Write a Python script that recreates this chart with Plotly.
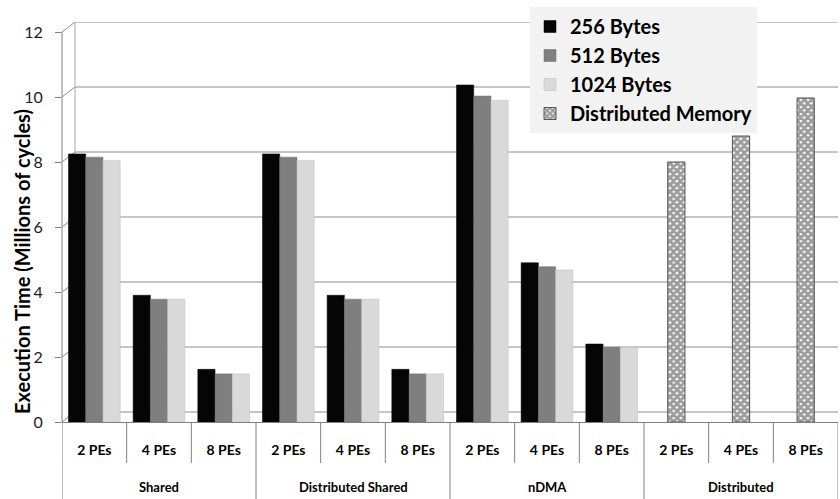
import plotly.graph_objects as go

groups = ["Shared", "Distributed Shared", "nDMA", "Distributed"]
pes = ["2 PEs", "4 PEs", "8 PEs"]

b256 = [8.25, 3.9, 1.62, 8.25, 3.9, 1.62, 10.37, 4.9, 2.4, None, None, None]
b512 = [8.15, 3.78, 1.48, 8.15, 3.78, 1.48, 10.03, 4.78, 2.3, None, None, None]
b1024 = [8.05, 3.78, 1.48, 8.05, 3.78, 1.48, 9.9, 4.68, 2.3, None, None, None]
dist_mem = [None, None, None, None, None, None, None, None, None, 8.0, 8.8, 9.97]

y_ticks = [0, 2, 4, 6, 8, 10, 12]

xs = [p for _ in groups for p in pes]
idx = list(range(len(xs)))
n_sub = len(pes)

FONT = "Lato"
fig = go.Figure()
fig.add_trace(go.Bar(x=idx, y=b256, name="256 Bytes", offsetgroup="a",
                     marker=dict(color="#050505", line=dict(color="#000000", width=0.5))))
fig.add_trace(go.Bar(x=idx, y=b512, name="512 Bytes", offsetgroup="b",
                     marker=dict(color="#7f7f7f", line=dict(color="#6a6a6a", width=0.5))))
fig.add_trace(go.Bar(x=idx, y=b1024, name="1024 Bytes", offsetgroup="c",
                     marker=dict(color="#d9d9d9", line=dict(color="#bdbdbd", width=0.5))))
fig.add_trace(go.Bar(x=idx, y=dist_mem, name="Distributed Memory", offsetgroup="b",
                     marker=dict(color="#ffffff",
                                 line=dict(color="#555555", width=1),
                                 pattern=dict(shape="x", fgcolor="#3a3a3a", bgcolor="#ffffff",
                                              size=5, solidity=0.8))))

# plot geometry: 0 at y=422px, 12 at y=32px, plot top at 22px, bottom margin 77px
ppu = 390 / 12.0
top_val = 400 / ppu
dy = 10 / ppu           # 3D wall offset (value units)
dx = 13 / 776.0         # 3D wall offset (paper units)
plot_h = 400.0

shapes = []
for v in y_ticks:
    shapes.append(dict(type="path", xref="paper", yref="y", layer="below",
                       path=f"M 0,{v} L {dx},{v + dy} L 1,{v + dy}",
                       line=dict(color="#8c8c8c", width=1)))
shapes.append(dict(type="line", xref="paper", yref="y", layer="below",
                   x0=dx, x1=dx, y0=dy, y1=12 + dy, line=dict(color="#a6a6a6", width=1)))
shapes.append(dict(type="line", xref="paper", yref="y", layer="below",
                   x0=0, x1=0, y0=0, y1=12, line=dict(color="#808080", width=1)))
# label-table dividers
for i in range(len(xs) + 1):
    pos = i - 0.5
    if i % n_sub == 0:
        y1 = -77 / plot_h
    else:
        y1 = -41 / plot_h
    shapes.append(dict(type="line", xref="x", yref="paper", layer="above",
                       x0=pos, x1=pos, y0=0, y1=y1,
                       line=dict(color="#808080", width=1)))

annotations = []
for gi, g in enumerate(groups):
    annotations.append(dict(text=g, x=gi * n_sub + (n_sub - 1) / 2, xref="x",
                            y=-65 / plot_h, yref="paper", showarrow=False,
                            xanchor="center", yanchor="middle",
                            font=dict(family=FONT, size=13, color="#000000", weight="bold")))
annotations.append(dict(text="Execution Time (Millions of cycles)", textangle=-90,
                        x=-40 / 776.0, xref="paper", y=(422 - 262) / plot_h, yref="paper",
                        showarrow=False, xanchor="center", yanchor="middle",
                        font=dict(family=FONT, size=20, color="#000000", weight="bold")))

fig.update_layout(
    width=840, height=499,
    margin=dict(l=62, r=2, t=22, b=77, autoexpand=False),
    paper_bgcolor="white", plot_bgcolor="rgba(0,0,0,0)",
    barmode="group", bargap=0.2, bargroupgap=0,
    font=dict(family=FONT, color="#1a1a1a"),
    showlegend=True,
    legend=dict(x=(530 - 62) / 776.0, y=1 + 15 / plot_h, xanchor="left", yanchor="top",
                bgcolor="#f2f2f2", borderwidth=0,
                font=dict(family=FONT, size=20, color="#000000", weight="bold"),
                tracegroupgap=0, itemwidth=30),
    xaxis=dict(range=[-0.5, len(xs) - 0.5], tickvals=idx, ticktext=xs,
               showline=True, linecolor="#808080", linewidth=1,
               ticks="", showgrid=False, zeroline=False, ticklabelstandoff=15,
               tickfont=dict(family=FONT, size=14, color="#000000", weight="bold")),
    yaxis=dict(range=[0, top_val], tickvals=y_ticks, showgrid=False, zeroline=False,
               showline=False, ticks="outside", ticklen=6, tickcolor="#808080",
               ticklabelstandoff=9,
               tickfont=dict(family=FONT, size=16, color="#1a1a1a")),
    shapes=shapes,
    annotations=annotations,
)

fig.write_html("out.html", config={"displayModeBar": False},
               post_script="document.body.style.margin='0';document.body.style.overflow='hidden';")
